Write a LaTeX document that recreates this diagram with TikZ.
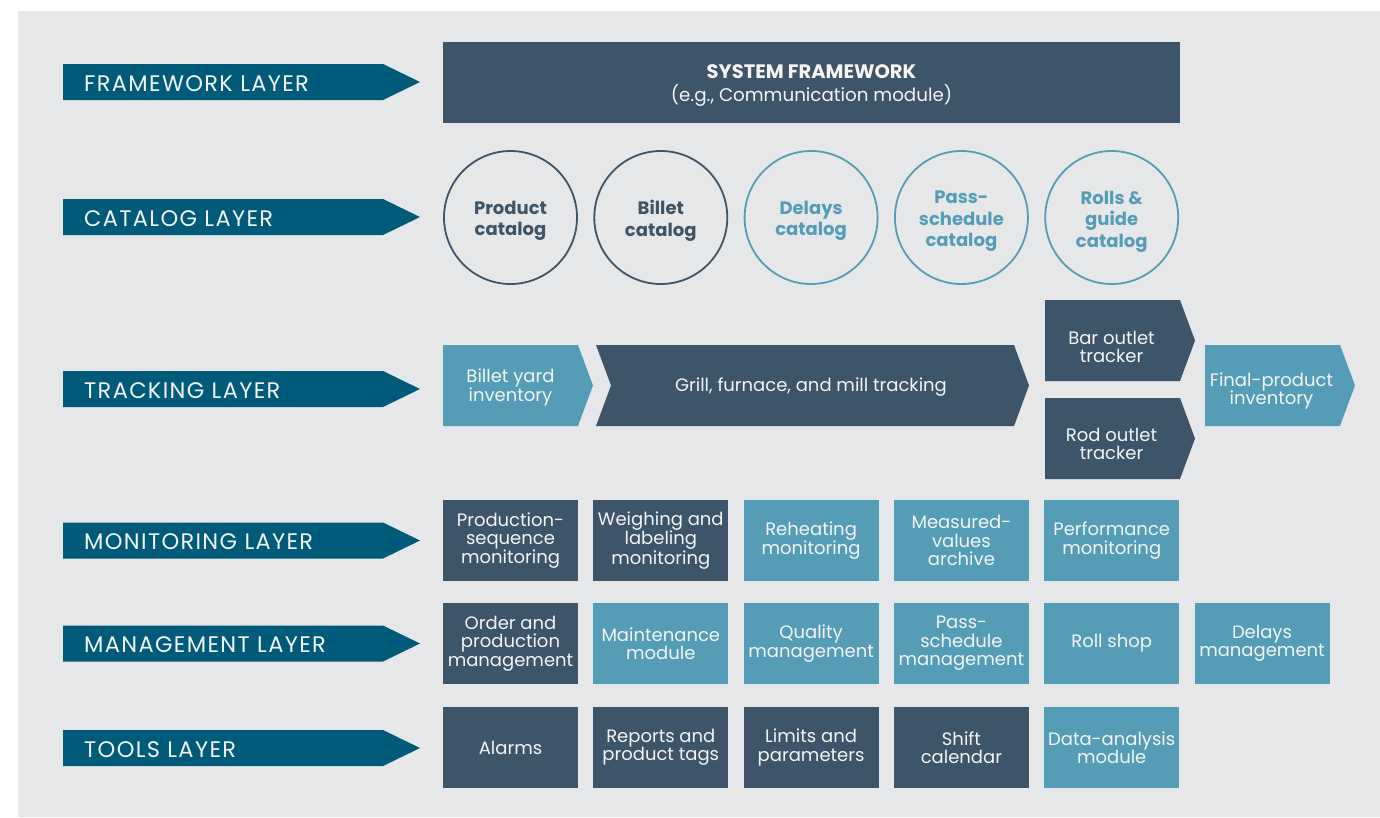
\documentclass[tikz,border=0pt]{standalone}
\usepackage{fontspec}
\setmainfont{Poppins}
\definecolor{bgc}{HTML}{E6E7E9}
\definecolor{darkc}{HTML}{3E5468}
\definecolor{lightc}{HTML}{559DB6}
\definecolor{arrowc}{HTML}{005B7B}
\definecolor{txtc}{HTML}{F4F4F4}
\newcommand\mychev[8]{%
  \fill[#8] (#2,#6) -- (#4,#6) -- (#5,{(#6+#7)/2}) -- (#4,#7) -- (#2,#7) -- ({#2+#3},{(#6+#7)/2}) -- cycle;}
\newcommand\mylayer[3]{%
  \fill[arrowc] (63,{#2-18}) -- (383,{#2-18}) -- (420,#2) -- (383,{#2+18}) -- (63,{#2+18}) -- cycle;
  \node[layertext] (#1) at (84,{#2+1.5}) {#3};}
\begin{document}
\begin{tikzpicture}[x=1pt,y=-1pt,
  layertext/.style={anchor=west,inner sep=0pt,text=txtc,font=\fontsize{22.5}{24}\selectfont\addfontfeature{LetterSpace=6}},
  boxtext/.style={inner sep=0pt,text=txtc,align=center,font=\fontsize{18}{18.4}\selectfont},
  dbox/.style={boxtext,fill=darkc,minimum width=135pt,minimum height=81pt},
  lbox/.style={boxtext,fill=lightc,minimum width=135pt,minimum height=81pt},
  catd/.style={circle,draw=darkc,line width=1.8pt,minimum size=133pt,inner sep=0pt},
  catl/.style={catd,draw=lightc},
  cattd/.style={inner sep=0pt,text=darkc,align=center,font=\bfseries\fontsize{18}{21.5}\selectfont},
  cattl/.style={cattd,text=lightc},
]
\useasboundingbox (0,0) rectangle (1380,817);
\fill[bgc] (18,11) rectangle (1380,817);

% layer arrows
\mylayer{lfw}{82}{FRAMEWORK LAYER}
\mylayer{lcat}{217}{CATALOG LAYER}
\mylayer{ltr}{389}{TRACKING LAYER}
\mylayer{lmon}{540.5}{MONITORING LAYER}
\mylayer{lman}{643.5}{MANAGEMENT LAYER}
\mylayer{ltool}{748}{TOOLS LAYER}

% framework
\node[fill=darkc,minimum width=737pt,minimum height=81pt,inner sep=0pt] (fw) at (811.5,82.5) {};
\node[inner sep=0pt,text=txtc,align=center,font=\fontsize{18.3}{23}\selectfont] (fwt) at (811.5,85.5)
  {{\bfseries\fontsize{19.5}{23}\selectfont SYSTEM FRAMEWORK}\\(e.g., Communication module)};

% catalogs
\node[catd] (cprod) at (510.5,217.5) {};
\node[catd] (cbil) at (660.8,217.5) {};
\node[catl] (cdel) at (811.1,217.5) {};
\node[catl] (cpass) at (961.4,217.5) {};
\node[catl] (croll) at (1111.7,217.5) {};
\node[cattd] (cprodt) at (510.5,221) {Product\\catalog};
\node[cattd] (cbilt) at (660.8,221) {Billet\\catalog};
\node[cattl] (cdelt) at (811.1,221) {Delays\\catalog};
\node[cattl] (cpasst) at (961.4,221.5) {Pass-\\schedule\\catalog};
\node[cattl] (crollt) at (1111.7,221.5) {Rolls \&\\guide\\catalog};

% tracking
\mychev{}{443}{0}{578}{593}{345}{426}{lightc}
\mychev{}{596}{15}{1014}{1029}{345}{426}{darkc}
\mychev{}{1045}{0}{1180}{1195}{300}{381}{darkc}
\mychev{}{1045}{0}{1180}{1195}{398}{479}{darkc}
\mychev{}{1205}{0}{1340}{1355}{345}{426}{lightc}
\node[boxtext] (tbil) at (510.5,387.5) {Billet yard\\inventory};
\node[boxtext] (tgrill) at (811,387) {Grill, furnace, and mill tracking};
\node[boxtext] (tbar) at (1111.5,347) {Bar outlet\\tracker};
\node[boxtext] (trod) at (1111.5,444) {Rod outlet\\tracker};
\node[boxtext] (tfin) at (1271.5,391) {Final-product\\inventory};

% monitoring
\node[dbox] (m1) at (510.5,540.5) {Production-\\sequence\\monitoring};
\node[dbox] (m2) at (660.8,540.5) {Weighing and\\labeling\\monitoring};
\node[lbox] (m3) at (811.1,540.5) {Reheating\\monitoring};
\node[lbox] (m4) at (961.4,540.5) {Measured-\\values\\archive};
\node[lbox] (m5) at (1111.7,540.5) {Performance\\monitoring};

% management
\node[dbox] (g1) at (510.5,643.5) {Order and\\production\\management};
\node[lbox] (g2) at (660.8,643.5) {Maintenance\\module};
\node[lbox] (g3) at (811.1,643.5) {Quality\\management};
\node[lbox] (g4) at (961.4,643.5) {Pass-\\schedule\\management};
\node[lbox] (g5) at (1111.7,643.5) {Roll shop};
\node[lbox] (g6) at (1262,643.5) {Delays\\management};

% tools
\node[dbox] (t1) at (510.5,747.5) {Alarms};
\node[dbox] (t2) at (660.8,747.5) {Reports and\\product tags};
\node[dbox] (t3) at (811.1,747.5) {Limits and\\parameters};
\node[dbox] (t4) at (961.4,747.5) {Shift\\calendar};
\node[lbox] (t5) at (1111.7,747.5) {Data-analysis\\module};
\end{tikzpicture}
\end{document}
